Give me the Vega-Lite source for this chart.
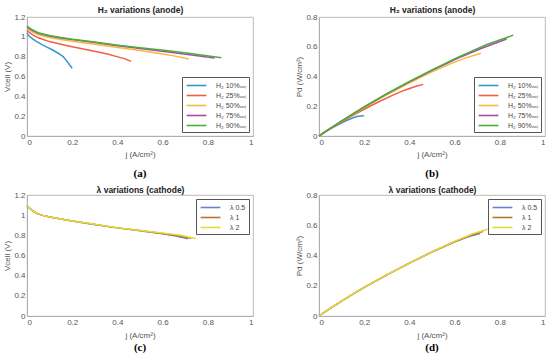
{
  "$schema": "https://vega.github.io/schema/vega-lite/v6.json",
  "padding": {"left": 3, "top": 4, "right": 4, "bottom": 1},
  "background": "white",
  "datasets": {
    "anode": [
      {"series": "H₂ 10%ᵥₒₗ", "j": 0, "V": 1.037, "P": 0},
      {"series": "H₂ 10%ᵥₒₗ", "j": 0.01, "V": 1.005, "P": 0.01},
      {"series": "H₂ 10%ᵥₒₗ", "j": 0.025, "V": 0.98, "P": 0.0245},
      {"series": "H₂ 10%ᵥₒₗ", "j": 0.045, "V": 0.95, "P": 0.043},
      {"series": "H₂ 10%ᵥₒₗ", "j": 0.069, "V": 0.918, "P": 0.063},
      {"series": "H₂ 10%ᵥₒₗ", "j": 0.09, "V": 0.893, "P": 0.08},
      {"series": "H₂ 10%ᵥₒₗ", "j": 0.114, "V": 0.867, "P": 0.099},
      {"series": "H₂ 10%ᵥₒₗ", "j": 0.143, "V": 0.827, "P": 0.118},
      {"series": "H₂ 10%ᵥₒₗ", "j": 0.16, "V": 0.8, "P": 0.128},
      {"series": "H₂ 10%ᵥₒₗ", "j": 0.173, "V": 0.765, "P": 0.132},
      {"series": "H₂ 10%ᵥₒₗ", "j": 0.188, "V": 0.718, "P": 0.135},
      {"series": "H₂ 10%ᵥₒₗ", "j": 0.2, "V": 0.684, "P": 0.137},
      {"series": "H₂ 25%ᵥₒₗ", "j": 0, "V": 1.065, "P": 0},
      {"series": "H₂ 25%ᵥₒₗ", "j": 0.01, "V": 1.045, "P": 0.0105},
      {"series": "H₂ 25%ᵥₒₗ", "j": 0.025, "V": 1.02, "P": 0.0255},
      {"series": "H₂ 25%ᵥₒₗ", "j": 0.05, "V": 0.99, "P": 0.0495},
      {"series": "H₂ 25%ᵥₒₗ", "j": 0.099, "V": 0.952, "P": 0.094},
      {"series": "H₂ 25%ᵥₒₗ", "j": 0.15, "V": 0.925, "P": 0.139},
      {"series": "H₂ 25%ᵥₒₗ", "j": 0.2, "V": 0.9, "P": 0.18},
      {"series": "H₂ 25%ᵥₒₗ", "j": 0.26, "V": 0.872, "P": 0.227},
      {"series": "H₂ 25%ᵥₒₗ", "j": 0.32, "V": 0.844, "P": 0.27},
      {"series": "H₂ 25%ᵥₒₗ", "j": 0.36, "V": 0.825, "P": 0.297},
      {"series": "H₂ 25%ᵥₒₗ", "j": 0.394, "V": 0.803, "P": 0.316},
      {"series": "H₂ 25%ᵥₒₗ", "j": 0.43, "V": 0.78, "P": 0.335},
      {"series": "H₂ 25%ᵥₒₗ", "j": 0.461, "V": 0.752, "P": 0.347},
      {"series": "H₂ 50%ᵥₒₗ", "j": 0, "V": 1.088, "P": 0},
      {"series": "H₂ 50%ᵥₒₗ", "j": 0.01, "V": 1.07, "P": 0.0107},
      {"series": "H₂ 50%ᵥₒₗ", "j": 0.025, "V": 1.048, "P": 0.0262},
      {"series": "H₂ 50%ᵥₒₗ", "j": 0.05, "V": 1.02, "P": 0.051},
      {"series": "H₂ 50%ᵥₒₗ", "j": 0.099, "V": 0.993, "P": 0.0983},
      {"series": "H₂ 50%ᵥₒₗ", "j": 0.15, "V": 0.973, "P": 0.146},
      {"series": "H₂ 50%ᵥₒₗ", "j": 0.2, "V": 0.956, "P": 0.191},
      {"series": "H₂ 50%ᵥₒₗ", "j": 0.3, "V": 0.925, "P": 0.2775},
      {"series": "H₂ 50%ᵥₒₗ", "j": 0.394, "V": 0.895, "P": 0.3526},
      {"series": "H₂ 50%ᵥₒₗ", "j": 0.5, "V": 0.862, "P": 0.431},
      {"series": "H₂ 50%ᵥₒₗ", "j": 0.586, "V": 0.833, "P": 0.488},
      {"series": "H₂ 50%ᵥₒₗ", "j": 0.65, "V": 0.808, "P": 0.525},
      {"series": "H₂ 50%ᵥₒₗ", "j": 0.716, "V": 0.776, "P": 0.556},
      {"series": "H₂ 75%ᵥₒₗ", "j": 0, "V": 1.1, "P": 0},
      {"series": "H₂ 75%ᵥₒₗ", "j": 0.01, "V": 1.083, "P": 0.0108},
      {"series": "H₂ 75%ᵥₒₗ", "j": 0.025, "V": 1.062, "P": 0.0266},
      {"series": "H₂ 75%ᵥₒₗ", "j": 0.05, "V": 1.035, "P": 0.0518},
      {"series": "H₂ 75%ᵥₒₗ", "j": 0.099, "V": 1.007, "P": 0.0997},
      {"series": "H₂ 75%ᵥₒₗ", "j": 0.15, "V": 0.988, "P": 0.148},
      {"series": "H₂ 75%ᵥₒₗ", "j": 0.2, "V": 0.973, "P": 0.195},
      {"series": "H₂ 75%ᵥₒₗ", "j": 0.3, "V": 0.942, "P": 0.283},
      {"series": "H₂ 75%ᵥₒₗ", "j": 0.394, "V": 0.912, "P": 0.359},
      {"series": "H₂ 75%ᵥₒₗ", "j": 0.5, "V": 0.882, "P": 0.441},
      {"series": "H₂ 75%ᵥₒₗ", "j": 0.616, "V": 0.85, "P": 0.524},
      {"series": "H₂ 75%ᵥₒₗ", "j": 0.72, "V": 0.82, "P": 0.59},
      {"series": "H₂ 75%ᵥₒₗ", "j": 0.83, "V": 0.786, "P": 0.652},
      {"series": "H₂ 90%ᵥₒₗ", "j": 0, "V": 1.109, "P": 0},
      {"series": "H₂ 90%ᵥₒₗ", "j": 0.01, "V": 1.09, "P": 0.0109},
      {"series": "H₂ 90%ᵥₒₗ", "j": 0.025, "V": 1.07, "P": 0.0268},
      {"series": "H₂ 90%ᵥₒₗ", "j": 0.05, "V": 1.042, "P": 0.0521},
      {"series": "H₂ 90%ᵥₒₗ", "j": 0.099, "V": 1.014, "P": 0.1004},
      {"series": "H₂ 90%ᵥₒₗ", "j": 0.15, "V": 0.994, "P": 0.149},
      {"series": "H₂ 90%ᵥₒₗ", "j": 0.2, "V": 0.976, "P": 0.195},
      {"series": "H₂ 90%ᵥₒₗ", "j": 0.3, "V": 0.947, "P": 0.284},
      {"series": "H₂ 90%ᵥₒₗ", "j": 0.394, "V": 0.918, "P": 0.362},
      {"series": "H₂ 90%ᵥₒₗ", "j": 0.5, "V": 0.89, "P": 0.445},
      {"series": "H₂ 90%ᵥₒₗ", "j": 0.616, "V": 0.861, "P": 0.53},
      {"series": "H₂ 90%ᵥₒₗ", "j": 0.74, "V": 0.828, "P": 0.613},
      {"series": "H₂ 90%ᵥₒₗ", "j": 0.86, "V": 0.788, "P": 0.678}
    ],
    "cathode": [
      {"series": "λ 0.5", "j": 0, "V": 1.095, "P": 0},
      {"series": "λ 0.5", "j": 0.01, "V": 1.072, "P": 0.0107},
      {"series": "λ 0.5", "j": 0.025, "V": 1.042, "P": 0.026},
      {"series": "λ 0.5", "j": 0.045, "V": 1.017, "P": 0.0458},
      {"series": "λ 0.5", "j": 0.069, "V": 0.998, "P": 0.0689},
      {"series": "λ 0.5", "j": 0.1, "V": 0.982, "P": 0.0982},
      {"series": "λ 0.5", "j": 0.15, "V": 0.962, "P": 0.144},
      {"series": "λ 0.5", "j": 0.2, "V": 0.943, "P": 0.189},
      {"series": "λ 0.5", "j": 0.3, "V": 0.908, "P": 0.272},
      {"series": "λ 0.5", "j": 0.4, "V": 0.874, "P": 0.35},
      {"series": "λ 0.5", "j": 0.5, "V": 0.846, "P": 0.423},
      {"series": "λ 0.5", "j": 0.6, "V": 0.816, "P": 0.49},
      {"series": "λ 0.5", "j": 0.66, "V": 0.793, "P": 0.523},
      {"series": "λ 0.5", "j": 0.712, "V": 0.765, "P": 0.545},
      {"series": "λ 1", "j": 0, "V": 1.095, "P": 0},
      {"series": "λ 1", "j": 0.01, "V": 1.072, "P": 0.0107},
      {"series": "λ 1", "j": 0.025, "V": 1.042, "P": 0.026},
      {"series": "λ 1", "j": 0.045, "V": 1.017, "P": 0.0458},
      {"series": "λ 1", "j": 0.069, "V": 0.998, "P": 0.0689},
      {"series": "λ 1", "j": 0.1, "V": 0.982, "P": 0.0982},
      {"series": "λ 1", "j": 0.15, "V": 0.962, "P": 0.144},
      {"series": "λ 1", "j": 0.2, "V": 0.943, "P": 0.189},
      {"series": "λ 1", "j": 0.3, "V": 0.908, "P": 0.272},
      {"series": "λ 1", "j": 0.4, "V": 0.874, "P": 0.35},
      {"series": "λ 1", "j": 0.5, "V": 0.847, "P": 0.424},
      {"series": "λ 1", "j": 0.6, "V": 0.819, "P": 0.491},
      {"series": "λ 1", "j": 0.66, "V": 0.798, "P": 0.527},
      {"series": "λ 1", "j": 0.727, "V": 0.77, "P": 0.56},
      {"series": "λ 2", "j": 0, "V": 1.095, "P": 0},
      {"series": "λ 2", "j": 0.01, "V": 1.072, "P": 0.0107},
      {"series": "λ 2", "j": 0.025, "V": 1.042, "P": 0.026},
      {"series": "λ 2", "j": 0.045, "V": 1.017, "P": 0.0458},
      {"series": "λ 2", "j": 0.069, "V": 0.998, "P": 0.0689},
      {"series": "λ 2", "j": 0.1, "V": 0.982, "P": 0.0982},
      {"series": "λ 2", "j": 0.15, "V": 0.962, "P": 0.144},
      {"series": "λ 2", "j": 0.2, "V": 0.943, "P": 0.189},
      {"series": "λ 2", "j": 0.3, "V": 0.909, "P": 0.273},
      {"series": "λ 2", "j": 0.4, "V": 0.876, "P": 0.35},
      {"series": "λ 2", "j": 0.5, "V": 0.849, "P": 0.425},
      {"series": "λ 2", "j": 0.6, "V": 0.822, "P": 0.493},
      {"series": "λ 2", "j": 0.68, "V": 0.8, "P": 0.544},
      {"series": "λ 2", "j": 0.746, "V": 0.768, "P": 0.573}
    ]
  },
  "config": {
    "font": "Liberation Sans",
    "view": {"stroke": "#a8a8a8", "strokeWidth": 0.8},
    "axis": {
      "grid": false,
      "domainColor": "#a8a8a8",
      "domainWidth": 0.8,
      "ticks": false,
      "labelOverlap": false,
      "labelSeparation": 0,
      "labelFontSize": 8,
      "labelColor": "#555",
      "labelPadding": 2,
      "titleFontSize": 8,
      "titleFontWeight": "normal",
      "titleColor": "#555",
      "titlePadding": 2
    },
    "legend": {
      "strokeColor": "#555",
      "fillColor": "white",
      "padding": 3,
      "offset": 4,
      "labelFontSize": 7,
      "labelColor": "#444",
      "symbolType": "M-2.2,0L2.2,0",
      "symbolStrokeWidth": 1.6,
      "symbolSize": 81,
      "symbolOffset": 6,
      "labelOffset": 14,
      "rowPadding": 1,
      "labelLimit": 90
    }
  },
  "spacing": 4,
  "resolve": {"scale": {"color": "independent"}},
  "vconcat": [
    {
      "spacing": 41,
      "resolve": {"scale": {"color": "independent"}},
      "hconcat": [
        {
          "width": 226,
          "height": 119,
          "data": {"name": "anode"},
          "title": {"text": "(a)", "orient": "bottom", "frame": "group", "anchor": "middle", "font": "Liberation Serif", "fontSize": 11, "fontWeight": "bold", "color": "#000", "offset": 10},
          "layer": [
            {
              "mark": {"type": "line", "strokeWidth": 1.5},
              "encoding": {
                "x": {"field": "j", "type": "quantitative", "scale": {"domain": [0, 1]}, "axis": {"title": "j (A/cm²)", "values": [0, 0.2, 0.4, 0.6, 0.8, 1], "format": "~g", "titlePadding": 4, "labelOverlap": false}},
                "y": {"field": "V", "type": "quantitative", "scale": {"domain": [0, 1.2], "nice": false}, "axis": {"title": "Vcell (V)", "values": [0, 0.2, 0.4, 0.6, 0.8, 1, 1.2], "format": "~g", "labelOverlap": false}},
                "color": {"field": "series", "type": "nominal", "scale": {"domain": ["H₂ 10%ᵥₒₗ", "H₂ 25%ᵥₒₗ", "H₂ 50%ᵥₒₗ", "H₂ 75%ᵥₒₗ", "H₂ 90%ᵥₒₗ"], "range": ["#3399cc", "#f45d45", "#f8b83a", "#a64ca6", "#4caf3c"]}, "legend": {"title": null, "orient": "bottom-right"}}
              }
            },
            {
              "mark": {"type": "rule", "strokeOpacity": 0},
              "encoding": {
                "x": {"field": "j", "type": "quantitative", "axis": {"orient": "top", "title": "H₂ variations (anode)", "labels": false, "domain": false, "titleFontWeight": "bold", "titleFontSize": 8.5, "titleColor": "#222", "titlePadding": 3}}
              }
            }
          ],
          "resolve": {"axis": {"x": "independent"}}
        },
        {
          "width": 226,
          "height": 119,
          "data": {"name": "anode"},
          "title": {"text": "(b)", "orient": "bottom", "frame": "group", "anchor": "middle", "font": "Liberation Serif", "fontSize": 11, "fontWeight": "bold", "color": "#000", "offset": 10},
          "layer": [
            {
              "mark": {"type": "line", "strokeWidth": 1.5},
              "encoding": {
                "x": {"field": "j", "type": "quantitative", "scale": {"domain": [0, 1]}, "axis": {"title": "j (A/cm²)", "values": [0, 0.2, 0.4, 0.6, 0.8, 1], "format": "~g", "titlePadding": 4, "labelOverlap": false}},
                "y": {"field": "P", "type": "quantitative", "scale": {"domain": [0, 0.8], "nice": false}, "axis": {"title": "Pd (W/cm²)", "values": [0, 0.2, 0.4, 0.6, 0.8], "format": "~g", "labelOverlap": false}},
                "color": {"field": "series", "type": "nominal", "scale": {"domain": ["H₂ 10%ᵥₒₗ", "H₂ 25%ᵥₒₗ", "H₂ 50%ᵥₒₗ", "H₂ 75%ᵥₒₗ", "H₂ 90%ᵥₒₗ"], "range": ["#3399cc", "#f45d45", "#f8b83a", "#a64ca6", "#4caf3c"]}, "legend": {"title": null, "orient": "bottom-right"}}
              }
            },
            {
              "mark": {"type": "rule", "strokeOpacity": 0},
              "encoding": {
                "x": {"field": "j", "type": "quantitative", "axis": {"orient": "top", "title": "H₂ variations (anode)", "labels": false, "domain": false, "titleFontWeight": "bold", "titleFontSize": 8.5, "titleColor": "#222", "titlePadding": 3}}
              }
            }
          ],
          "resolve": {"axis": {"x": "independent"}}
        }
      ]
    },
    {
      "spacing": 41,
      "resolve": {"scale": {"color": "independent"}},
      "hconcat": [
        {
          "width": 226,
          "height": 121,
          "data": {"name": "cathode"},
          "title": {"text": "(c)", "orient": "bottom", "frame": "group", "anchor": "middle", "font": "Liberation Serif", "fontSize": 11, "fontWeight": "bold", "color": "#000", "offset": 3},
          "layer": [
            {
              "mark": {"type": "line", "strokeWidth": 1.5},
              "encoding": {
                "x": {"field": "j", "type": "quantitative", "scale": {"domain": [0, 1]}, "axis": {"title": "j (A/cm²)", "values": [0, 0.2, 0.4, 0.6, 0.8, 1], "format": "~g", "titlePadding": 5, "labelOverlap": false}},
                "y": {"field": "V", "type": "quantitative", "scale": {"domain": [0, 1.2], "nice": false}, "axis": {"title": "Vcell (V)", "values": [0, 0.2, 0.4, 0.6, 0.8, 1, 1.2], "format": "~g", "labelOverlap": false}},
                "color": {"field": "series", "type": "nominal", "scale": {"domain": ["λ 0.5", "λ 1", "λ 2"], "range": ["#6a82c8", "#b8742c", "#e4da3a"]}, "legend": {"title": null, "orient": "top-right"}}
              }
            },
            {
              "mark": {"type": "rule", "strokeOpacity": 0},
              "encoding": {
                "x": {"field": "j", "type": "quantitative", "axis": {"orient": "top", "title": "λ variations (cathode)", "labels": false, "domain": false, "titleFontWeight": "bold", "titleFontSize": 8.5, "titleColor": "#222", "titlePadding": 1}}
              }
            }
          ],
          "resolve": {"axis": {"x": "independent"}}
        },
        {
          "width": 226,
          "height": 121,
          "data": {"name": "cathode"},
          "title": {"text": "(d)", "orient": "bottom", "frame": "group", "anchor": "middle", "font": "Liberation Serif", "fontSize": 11, "fontWeight": "bold", "color": "#000", "offset": 3},
          "layer": [
            {
              "mark": {"type": "line", "strokeWidth": 1.5},
              "encoding": {
                "x": {"field": "j", "type": "quantitative", "scale": {"domain": [0, 1]}, "axis": {"title": "j (A/cm²)", "values": [0, 0.2, 0.4, 0.6, 0.8, 1], "format": "~g", "titlePadding": 5, "labelOverlap": false}},
                "y": {"field": "P", "type": "quantitative", "scale": {"domain": [0, 0.8], "nice": false}, "axis": {"title": "Pd (W/cm²)", "values": [0, 0.2, 0.4, 0.6, 0.8], "format": "~g", "labelOverlap": false}},
                "color": {"field": "series", "type": "nominal", "scale": {"domain": ["λ 0.5", "λ 1", "λ 2"], "range": ["#6a82c8", "#b8742c", "#e4da3a"]}, "legend": {"title": null, "orient": "top-right"}}
              }
            },
            {
              "mark": {"type": "rule", "strokeOpacity": 0},
              "encoding": {
                "x": {"field": "j", "type": "quantitative", "axis": {"orient": "top", "title": "λ variations (cathode)", "labels": false, "domain": false, "titleFontWeight": "bold", "titleFontSize": 8.5, "titleColor": "#222", "titlePadding": 1}}
              }
            }
          ],
          "resolve": {"axis": {"x": "independent"}}
        }
      ]
    }
  ]
}
